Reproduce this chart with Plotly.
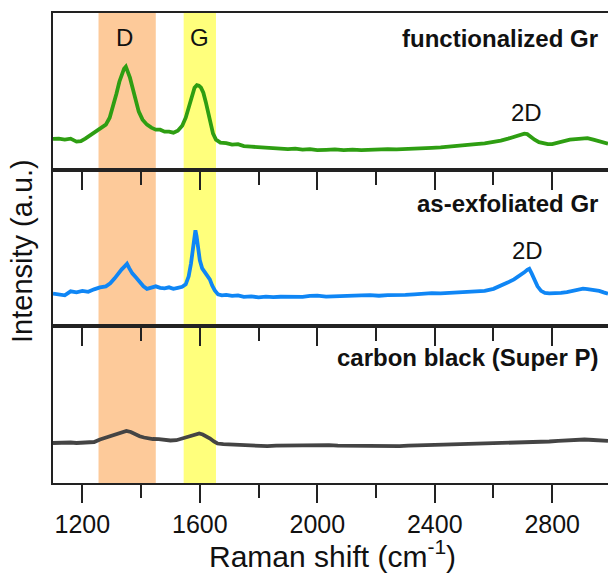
import plotly.graph_objects as go

# Raman spectra (intensity in arbitrary units, offset per panel)
func_shift = [1100, 1120, 1140, 1160, 1180, 1195, 1210, 1230, 1250, 1265, 1280, 1293, 1305, 1316, 1326,
              1335, 1342, 1348, 1354, 1362, 1370, 1380, 1392, 1405, 1420, 1435, 1450, 1465, 1480, 1495,
              1510, 1525, 1540, 1552, 1563, 1573, 1582, 1590, 1597, 1604, 1612, 1620, 1628, 1636, 1645,
              1655, 1670, 1690, 1710, 1730, 1750, 1775, 1800, 1825, 1850, 1875, 1900, 1925, 1950, 1975,
              2000, 2030, 2060, 2090, 2120, 2150, 2180, 2210, 2240, 2270, 2300, 2330, 2360, 2390, 2420,
              2450, 2480, 2510, 2540, 2570, 2600, 2625, 2650, 2670, 2690, 2705, 2715, 2725, 2740, 2755,
              2770, 2785, 2800, 2820, 2840, 2860, 2880, 2900, 2920, 2940, 2960, 2975, 2990]
func_int = [30.7, 31, 30, 31, 28, 28.5, 31, 35, 39, 42, 45, 52, 63, 76, 88,
            96, 101, 103, 99, 92, 83, 70, 58, 50, 45, 42, 40, 40, 38, 38,
            37, 39, 44, 52, 64, 75, 82, 84.5, 84, 82, 77, 68, 58, 46, 36,
            30, 27, 26.5, 25, 25.5, 23.5, 23, 22.5, 22.8, 21.5, 21, 20.5, 21, 20, 20.5,
            19.5, 19.8, 20.2, 19.5, 20, 19.5, 20, 19.8, 20.5, 20.2, 20.8, 21, 21.2, 21.8, 22.2,
            22.8, 23.5, 24.5, 25.5, 26.3, 27.5, 29, 31, 33, 35, 36, 35.5, 33, 30, 27.5,
            26, 25.5, 25.5, 27, 29, 30, 30.5, 31, 31.5, 30, 28, 26.5, 26]

exf_shift = [1100, 1120, 1140, 1160, 1180, 1200, 1220, 1240, 1260, 1280, 1295, 1310, 1322, 1334, 1344,
             1352, 1360, 1370, 1382, 1395, 1408, 1420, 1435, 1450, 1465, 1480, 1495, 1510, 1525, 1540,
             1552, 1562, 1570, 1576, 1581, 1585, 1589, 1594, 1600, 1608, 1617, 1626, 1634, 1642, 1651,
             1662, 1675, 1690, 1710, 1730, 1750, 1775, 1800, 1825, 1850, 1875, 1900, 1925, 1950, 1975,
             2000, 2030, 2060, 2090, 2120, 2150, 2180, 2210, 2240, 2270, 2300, 2330, 2360, 2390, 2420,
             2450, 2480, 2510, 2540, 2570, 2600, 2625, 2650, 2670, 2690, 2705, 2715, 2722, 2730, 2740,
             2750, 2762, 2775, 2790, 2810, 2830, 2850, 2870, 2890, 2905, 2920, 2940, 2960, 2975, 2990]
exf_int = [32.7, 31.5, 31, 35, 34, 35.5, 34.5, 37, 39, 40, 43, 48, 53, 57, 60,
           62.5, 58, 53, 49, 44, 40, 37.5, 39, 40, 38.5, 38, 39, 37.5, 38.5, 39.5,
           42, 50, 63, 79, 91, 96, 90, 78, 66, 58, 54, 51, 47, 41, 36,
           32, 31, 31.5, 30.5, 31, 29.5, 30, 29, 29.8, 29.2, 29.6, 29.3, 29.8, 29.5, 30.5,
           30.8, 29.8, 30.3, 30.2, 30.6, 31, 31.2, 30.6, 31.3, 31, 31.5, 32, 32.8, 33.2, 33,
           33.5, 33.2, 33.6, 34.5, 35.5, 37.5, 40.5, 44, 47, 50.5, 54, 56.5, 57.5, 53, 46,
           40, 35.5, 33.5, 33, 32.8, 33.5, 34.3, 35.5, 37, 37.7, 37.3, 36.5, 35.5, 34, 32.7]

cb_shift = [1100, 1120, 1140, 1160, 1180, 1200, 1220, 1240, 1260, 1280, 1300, 1320, 1335, 1350, 1365,
            1380, 1395, 1410, 1425, 1440, 1460, 1480, 1500, 1520, 1540, 1555, 1570, 1585, 1598, 1610,
            1622, 1635, 1648, 1660, 1680, 1700, 1725, 1750, 1775, 1800, 1830, 1860, 1890, 1920, 1950,
            1980, 2010, 2040, 2070, 2100, 2130, 2160, 2190, 2220, 2250, 2280, 2310, 2340, 2370, 2400,
            2430, 2460, 2490, 2520, 2550, 2580, 2610, 2640, 2670, 2700, 2730, 2760, 2790, 2820, 2850,
            2880, 2910, 2940, 2970, 2990]
cb_int = [40, 40.3, 39.8, 40.5, 40, 40.6, 40.4, 41, 43.5, 45.5, 47.5, 49.5, 51, 52, 51,
          48.5, 46.8, 45.5, 44.5, 44, 43.8, 43, 42.5, 42.8, 44.5, 46.5, 48, 49, 49.5, 48.5,
          47, 44.5, 41.5, 39.5, 38.8, 38.5, 38.2, 37.8, 37.5, 37.2, 36.8, 37.4, 37.6, 37.8, 37.5,
          37.9, 37.6, 37.8, 37.3, 37.1, 36.9, 36.8, 36.5, 36.3, 36.1, 36.8, 37.3, 37.8, 38, 38.2,
          38.3, 38.5, 38.8, 39.2, 39.6, 40, 40.1, 40.2, 40, 40.1, 40.4, 40.9, 41.5, 42.2, 42.8,
          43.2, 43.5, 43, 42.3, 42.1]

# Band regions (cm^-1)
d_band = [1255, 1450]
g_band = [1545, 1655]

samples = ["functionalized Gr", "as-exfoliated Gr", "carbon black (Super P)"]
series = [(func_shift, func_int), (exf_shift, exf_int), (cb_shift, cb_int)]
colors = ["#2e9e12", "#0f86f5", "#444444"]

FONT = "Arial, Liberation Sans, sans-serif"
AXIS_COLOR = "#222222"

# panel domains, top to bottom
domains = [[2 / 3, 1.0], [1 / 3, 2 / 3], [0.0, 1 / 3]]

fig = go.Figure()
layout = {}
for i, ((xs, ys), col, dom) in enumerate(zip(series, colors, domains), start=1):
    sfx = "" if i == 1 else str(i)
    fig.add_trace(go.Scatter(x=xs, y=ys, mode="lines", xaxis="x" + sfx, yaxis="y" + sfx,
                             line=dict(color=col, width=3.8), showlegend=False))
    ax = dict(
        range=[1100, 2990], anchor="y" + sfx, showline=True, linewidth=2,
        linecolor=AXIS_COLOR, mirror=True, ticks="outside", dtick=400, tick0=1200,
        ticklen=18, tickwidth=2, tickcolor=AXIS_COLOR,
        minor=dict(ticks="outside", ticklen=13, tickwidth=2, tickcolor=AXIS_COLOR, dtick=200),
        showgrid=False, zeroline=False, showticklabels=(i == 3),
        tickfont=dict(family=FONT, size=25, color="#111111"),
    )
    if i > 1:
        ax["matches"] = "x"
    layout["xaxis" + sfx] = ax
    layout["yaxis" + sfx] = dict(
        domain=dom, anchor="x" + sfx, range=[0, 156.7], showline=True, linewidth=2,
        linecolor=AXIS_COLOR, mirror=False, ticks="", showticklabels=False,
        showgrid=False, zeroline=False,
    )

# Shaded D and G bands spanning all three panels
for band, fill in ((d_band, "#fdca9a"), (g_band, "#ffff7c")):
    fig.add_shape(type="rect", xref="x", yref="paper",
                  x0=band[0], x1=band[1], y0=0, y1=1,
                  fillcolor=fill, line=dict(width=0), layer="below")

annotations = []
label_y = [0.9468, 0.5957, 0.268]
for name, yy in zip(samples, label_y):
    annotations.append(dict(text=f"<b>{name}</b>", xref="paper", yref="paper",
                            x=0.986, y=yy, xanchor="right", yanchor="middle",
                            showarrow=False, font=dict(family=FONT, size=24, color="#111111")))

peak_labels = [("D", 1344, 0.9489), ("G", 1600, 0.9489), ("2D", 2712, 0.789), ("2D", 2716, 0.4957)]
for txt, xv, yy in peak_labels:
    annotations.append(dict(text=txt, xref="x", yref="paper", x=xv, y=yy,
                            xanchor="center", yanchor="middle", showarrow=False,
                            font=dict(family=FONT, size=24, color="#111111")))

annotations.append(dict(text="Intensity (a.u.)", xref="paper", yref="paper",
                        x=-0.0559, y=0.4936, xanchor="center", yanchor="middle",
                        textangle=-90, showarrow=False,
                        font=dict(family=FONT, size=29, color="#111111")))
annotations.append(dict(text="Raman shift (cm<sup>-1</sup>)", xref="paper", yref="paper",
                        x=0.5036, y=-0.15, xanchor="center", yanchor="middle",
                        showarrow=False, font=dict(family=FONT, size=30, color="#111111")))

fig.update_layout(width=608, height=576, margin=dict(l=53, r=0, t=13, b=93),
                  plot_bgcolor="white", paper_bgcolor="white",
                  annotations=annotations, **layout)

fig.write_html("out.html")
